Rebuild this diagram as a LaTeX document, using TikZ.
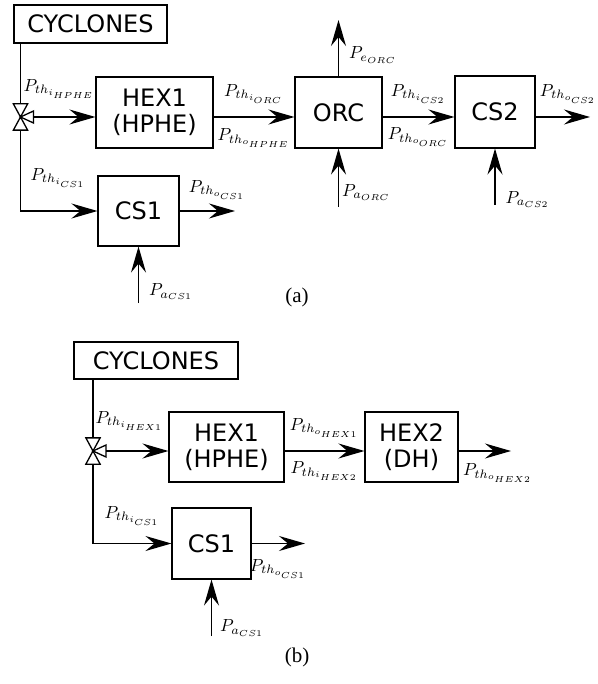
\documentclass[tikz,border=0pt]{standalone}
\usepackage{graphicx}
\usepackage{fontspec}
\newfontfamily\blockfont{DejaVu Sans}
\newfontfamily\captfont{Liberation Serif}
\newcommand{\plab}[1]{\scalebox{1.75}{$#1$}}
\usetikzlibrary{arrows.meta}

\begin{document}
\begin{tikzpicture}[x=1pt,y=-1pt,>={Stealth[length=26pt,width=15pt,inset=9pt]},
        line width=1.3pt,
        block/.style={draw,line width=1.1pt,inner sep=0pt,align=center,
          font=\blockfont\fontsize{24}{26}\selectfont},
        lbl/.style={inner sep=1pt,font=\normalsize},
        valve/.style={inner sep=0pt,minimum width=13pt,minimum height=25pt},
        capt/.style={font=\captfont\fontsize{21}{21}\selectfont}]
        \useasboundingbox (0,0) rectangle (597,684);
        % (a)
        \node[block,minimum width=153pt,minimum height=38pt] (cycA) at (90.5,24) {CYCLONES};
        \node[valve] (vA) at (20.5,117) {};
        \node[block,minimum width=117pt,minimum height=71pt] (hexA) at (154.5,112.5) {HEX1\\(HPHE)};
        \node[block,minimum width=87pt,minimum height=71pt] (orc) at (338.5,112.5) {ORC};
        \node[block,minimum width=80pt,minimum height=72pt] (csTwo) at (495,112) {CS2};
        \node[block,minimum width=81pt,minimum height=70pt] (csA) at (138.5,211) {CS1};
        \coordinate (vAr) at ([xshift=13pt]vA.center);
        \coordinate (eorc) at (338.5,20);
        \coordinate (aorc) at (338.5,207);
        \coordinate (acsTwo) at (495,205);
        \coordinate (acsA) at (138.5,303);
        \coordinate (csTwoOut) at (590,117);
        \coordinate (csAOut) at (235,211);
        \draw (cycA.south -| vA) -- (vA.north);
        \draw[fill=white] (vA.north west) -- (vA.north east) -- (vA.south west) -- (vA.south east) -- cycle;
        \draw[fill=white] (vA.center) -- ([shift={(13,-6)}]vA.center) -- ([shift={(13,6)}]vA.center) -- cycle;
        \draw[->] (vAr) -- (vAr -| hexA.west);
        \draw[->] (vA.south) |- (csA.west);
        \draw[->] (hexA.east |- vAr) -- node[lbl,above=12pt] {\plab{P_{th_{i_{ORC}}}}}
          node[lbl,below=10pt] {\plab{P_{th_{o_{HPHE}}}}} (orc.west |- vAr);
        \draw[->] (orc.east |- vAr) -- node[lbl,above=12pt] {\plab{P_{th_{i_{CS2}}}}}
          node[lbl,below=9pt] {\plab{P_{th_{o_{ORC}}}}} (csTwo.west |- vAr);
        \draw[->] (csTwo.east |- csTwoOut) -- node[lbl,above=12pt,pos=.6] {\plab{P_{th_{o_{CS2}}}}} (csTwoOut);
        \draw[->] (orc.north) -- node[lbl,right=9pt,pos=.38] {\plab{P_{e_{ORC}}}} (eorc);
        \draw[->] (aorc) -- node[lbl,right=2pt,pos=.25] {\plab{P_{a_{ORC}}}} (orc.south);
        \draw[->] (acsTwo) -- node[lbl,right=9pt,pos=.1] {\plab{P_{a_{CS2}}}} (csTwo.south);
        \draw[->] (csA.east) -- node[lbl,above=10pt,pos=.68] {\plab{P_{th_{o_{CS1}}}}} (csAOut);
        \draw[->] (acsA) -- node[lbl,right=9pt,pos=.2] {\plab{P_{a_{CS1}}}} (csA.south);
        \node[lbl,anchor=south west] (lhpA) at (22,100) {\plab{P_{th_{i_{HPHE}}}}};
        \node[lbl,anchor=south west] (lcsA) at (29,189) {\plab{P_{th_{i_{CS1}}}}};
        \node[capt] (captA) at (297,297) {(a)};
        % (b)
        \node[block,minimum width=164pt,minimum height=37pt] (cycB) at (156,360.5) {CYCLONES};
        \node[valve] (vB) at (93,451) {};
        \node[block,minimum width=115pt,minimum height=70pt] (hexB) at (226.5,447) {HEX1\\(HPHE)};
        \node[block,minimum width=93pt,minimum height=70pt] (hexTwo) at (411.5,447) {HEX2\\(DH)};
        \node[block,minimum width=79pt,minimum height=71pt] (csB) at (211.5,543.5) {CS1};
        \coordinate (vBr) at ([xshift=13pt]vB.center);
        \coordinate (hexTwoOut) at (511,451);
        \coordinate (csBOut) at (305,543.5);
        \coordinate (acsB) at (211.5,636);
        \draw (cycB.south -| vB) -- (vB.north);
        \draw[fill=white] (vB.north west) -- (vB.north east) -- (vB.south west) -- (vB.south east) -- cycle;
        \draw[fill=white] (vB.center) -- ([shift={(13,-6)}]vB.center) -- ([shift={(13,6)}]vB.center) -- cycle;
        \draw[->] (vBr) -- (vBr -| hexB.west);
        \draw[->] (vB.south) |- (csB.west);
        \draw[->] (hexB.east |- vBr) -- node[lbl,above=12pt] {\plab{P_{th_{o_{HEX1}}}}}
          node[lbl,below=9pt] {\plab{P_{th_{i_{HEX2}}}}} (hexTwo.west |- vBr);
        \draw[->] (hexTwo.east |- hexTwoOut) -- node[lbl,below=11pt,pos=.75] {\plab{P_{th_{o_{HEX2}}}}} (hexTwoOut);
        \draw[->] (csB.east) -- node[lbl,below=14pt] {\plab{P_{th_{o_{CS1}}}}} (csBOut);
        \draw[->] (acsB) -- node[lbl,right=7pt,pos=.14] {\plab{P_{a_{CS1}}}} (csB.south);
        \node[lbl,anchor=south west] (lhexB) at (94,432) {\plab{P_{th_{i_{HEX1}}}}};
        \node[lbl,anchor=south west] (lcsB) at (103,527) {\plab{P_{th_{i_{CS1}}}}};
        \node[capt] (captB) at (297,657) {(b)};
\end{tikzpicture}
\end{document}
